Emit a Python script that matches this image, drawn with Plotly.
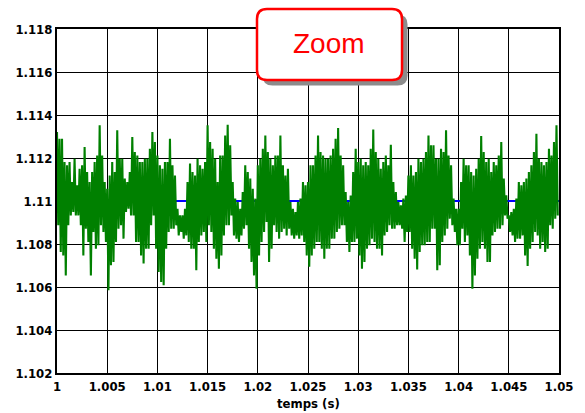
import numpy as np
import plotly.graph_objects as go

# Sampling step of the envelope readings (s)
step = 0.00025
t_start = 1.0

# Upper and lower extremes of the measured signal, one pair per step
sig_hi = [
    1.11321, 1.11290, 1.11290, 1.11181, 1.11166, 1.11181, 1.11088, 1.11197, 1.11073, 1.11150,
    1.11166, 1.11251, 1.11135, 1.11088, 1.11135, 1.11181, 1.11212, 1.11352, 1.11212, 1.11088,
    1.11057, 1.11119, 1.11181, 1.11135, 1.11329, 1.11197, 1.11197, 1.11104, 1.11088, 1.11135,
    1.11298, 1.11228, 1.11212, 1.11181, 1.11181, 1.11197, 1.11197, 1.11243, 1.11321, 1.11274,
    1.11212, 1.11166, 1.11150, 1.11181, 1.11181, 1.11290, 1.11166, 1.11119, 1.10964, 1.10933,
    1.10933, 1.10964, 1.11088, 1.11174, 1.11135, 1.11119, 1.11197, 1.11166, 1.11150, 1.11181,
    1.11352, 1.11274, 1.11243, 1.11197, 1.11088, 1.11212, 1.11212, 1.11305, 1.11355, 1.11259,
    1.11088, 1.11011, 1.10995, 1.10964, 1.11042, 1.11166, 1.11135, 1.11104, 1.11057, 1.11011,
    1.11166, 1.11197, 1.11243, 1.11305, 1.11228, 1.11197, 1.11166, 1.11212, 1.11212, 1.11305,
    1.11166, 1.11119, 1.11150, 1.10995, 1.10964, 1.10949, 1.10995, 1.11011, 1.11088, 1.11073,
    1.11088, 1.11166, 1.11166, 1.11212, 1.11305, 1.11228, 1.11212, 1.11197, 1.11197, 1.11212,
    1.11243, 1.11290, 1.11340, 1.11212, 1.11166, 1.11042, 1.10995, 1.11026, 1.11135, 1.11243,
    1.11181, 1.11197, 1.11166, 1.11181, 1.11166, 1.11243, 1.11333, 1.11228, 1.11197, 1.11150,
    1.11181, 1.11212, 1.11166, 1.11262, 1.11088, 1.11042, 1.10995, 1.10980, 1.11011, 1.11026,
    1.11119, 1.11166, 1.11119, 1.11135, 1.11197, 1.11181, 1.11197, 1.11228, 1.11305, 1.11259,
    1.11259, 1.11197, 1.11197, 1.11243, 1.11228, 1.11329, 1.11212, 1.11166, 1.11011, 1.10964,
    1.10964, 1.11088, 1.11197, 1.11166, 1.11166, 1.11135, 1.11119, 1.11150, 1.11197, 1.11302,
    1.11228, 1.11181, 1.11197, 1.11135, 1.11181, 1.11166, 1.11212, 1.11274, 1.11104, 1.11026,
    1.10933, 1.10949, 1.10964, 1.11011, 1.11088, 1.11073, 1.11088, 1.11104, 1.11135, 1.11166,
    1.11228, 1.11313, 1.11197, 1.11181, 1.11166, 1.11181, 1.11243, 1.11212, 1.11274, 1.11352,
]
sig_lo = [
    1.10887, 1.10763, 1.10747, 1.10654, 1.10887, 1.10933, 1.10949, 1.10933, 1.10933, 1.10887,
    1.10747, 1.10871, 1.10809, 1.10654, 1.10856, 1.10778, 1.10794, 1.10887, 1.10856, 1.10809,
    1.10585, 1.10701, 1.10716, 1.10809, 1.10871, 1.10887, 1.10825, 1.10949, 1.10964, 1.10933,
    1.10933, 1.10809, 1.10809, 1.10747, 1.10709, 1.10778, 1.10778, 1.10887, 1.10933, 1.10778,
    1.10670, 1.10623, 1.10608, 1.10778, 1.10856, 1.10871, 1.10871, 1.10887, 1.10840, 1.10856,
    1.10825, 1.10840, 1.10809, 1.10778, 1.10778, 1.10678, 1.10809, 1.10840, 1.10856, 1.10809,
    1.10887, 1.10856, 1.10778, 1.10732, 1.10685, 1.10747, 1.10840, 1.10887, 1.10887, 1.10933,
    1.10840, 1.10825, 1.10809, 1.10840, 1.10871, 1.10887, 1.10778, 1.10716, 1.10654, 1.10592,
    1.10747, 1.10809, 1.10856, 1.10902, 1.10716, 1.10778, 1.10887, 1.10856, 1.10825, 1.10856,
    1.10871, 1.10840, 1.10871, 1.10840, 1.10825, 1.10840, 1.10825, 1.10840, 1.10809, 1.10747,
    1.10694, 1.10747, 1.10778, 1.10809, 1.10809, 1.10778, 1.10732, 1.10778, 1.10778, 1.10825,
    1.10825, 1.10856, 1.10871, 1.10887, 1.10887, 1.10809, 1.10763, 1.10809, 1.10809, 1.10825,
    1.10747, 1.10685, 1.10716, 1.10778, 1.10794, 1.10825, 1.10809, 1.10778, 1.10778, 1.10747,
    1.10840, 1.10856, 1.10887, 1.10871, 1.10871, 1.10887, 1.10887, 1.10871, 1.10809, 1.10856,
    1.10856, 1.10778, 1.10732, 1.10682, 1.10763, 1.10794, 1.10794, 1.10809, 1.10809, 1.10871,
    1.10871, 1.10678, 1.10701, 1.10809, 1.10840, 1.10871, 1.10918, 1.10887, 1.10856, 1.10794,
    1.10794, 1.10871, 1.10809, 1.10840, 1.10747, 1.10592, 1.10654, 1.10732, 1.10778, 1.10809,
    1.10778, 1.10716, 1.10716, 1.10840, 1.10856, 1.10871, 1.10871, 1.10887, 1.10933, 1.10918,
    1.10856, 1.10840, 1.10809, 1.10825, 1.10825, 1.10840, 1.10747, 1.10698, 1.10778, 1.10809,
    1.10856, 1.10840, 1.10778, 1.10809, 1.10763, 1.10778, 1.10887, 1.10871, 1.10918, 1.10933,
]

# Reference level
ref_level = 1.11
ref_span = [1.0, 1.05]

x_ticks = [1.0, 1.005, 1.01, 1.015, 1.02, 1.025, 1.03, 1.035, 1.04, 1.045, 1.05]
x_labels = ["1", "1.005", "1.01", "1.015", "1.02", "1.025", "1.03", "1.035", "1.04", "1.045", "1.05"]
y_ticks = [1.102, 1.104, 1.106, 1.108, 1.11, 1.112, 1.114, 1.116, 1.118]
y_labels = ["1.102", "1.104", "1.106", "1.108", "1.11", "1.112", "1.114", "1.116", "1.118"]

# Interleave the extremes into one zig-zag trace
n = len(sig_hi)
t_hi = t_start + step * np.arange(n)
t_lo = t_hi + step / 2
t = np.empty(2 * n)
v = np.empty(2 * n)
t[0::2], t[1::2] = t_hi, t_lo
v[0::2], v[1::2] = sig_hi, sig_lo

fig = go.Figure()
fig.add_trace(go.Scatter(x=ref_span, y=[ref_level, ref_level], mode="lines",
                         line=dict(color="#0000ff", width=2), hoverinfo="skip"))
fig.add_trace(go.Scatter(x=t, y=v, mode="lines",
                         line=dict(color="#008000", width=2.1)))

tick_font = dict(family="DejaVu Sans Condensed, DejaVu Sans", size=13, color="black", weight="bold")

fig.update_xaxes(range=[1.0, 1.05], tickvals=x_ticks, ticktext=x_labels,
                 showgrid=True, gridcolor="black", gridwidth=1.3, zeroline=False,
                 showline=True, linecolor="black", linewidth=2, mirror=True,
                 ticks="", tickfont=tick_font, automargin=False)
fig.update_yaxes(range=[1.102, 1.118], tickvals=y_ticks, ticktext=y_labels,
                 showgrid=True, gridcolor="black", gridwidth=1.3, zeroline=False,
                 showline=True, linecolor="black", linewidth=2, mirror=True,
                 ticks="", tickfont=tick_font, automargin=False)

# Axis title placed just under the tick labels
fig.add_annotation(x=0.5, y=-0.088, xref="paper", yref="paper", text="temps (s)",
                   xanchor="center", yanchor="middle", showarrow=False, font=tick_font)

# Rounded "Zoom" label box with a drop shadow (paper coordinates)
def rounded(x0, x1, yb, yt, rx, ry):
    return (f"M {x0+rx},{yt} L {x1-rx},{yt} Q {x1},{yt} {x1},{yt-ry} "
            f"L {x1},{yb+ry} Q {x1},{yb} {x1-rx},{yb} L {x0+rx},{yb} "
            f"Q {x0},{yb} {x0},{yb+ry} L {x0},{yt-ry} Q {x0},{yt} {x0+rx},{yt} Z")

bx0, bx1, by0, by1 = 0.3984, 0.6873, 0.8517, 1.0581
rx, ry = 0.0199, 0.0291
dx, dy = 0.0110, -0.0160
fig.add_shape(type="path", xref="paper", yref="paper", layer="above",
              path=rounded(bx0 + dx, bx1 + dx, by0 + dy, by1 + dy, rx, ry),
              fillcolor="#8c8c8c", line=dict(width=0))
fig.add_shape(type="path", xref="paper", yref="paper", layer="above",
              path=rounded(bx0, bx1, by0, by1, rx, ry),
              fillcolor="white", line=dict(color="#ff0000", width=2.5))
fig.add_annotation(x=0.5418, y=0.9564, xref="paper", yref="paper", text="Zoom",
                   xanchor="center", yanchor="middle", showarrow=False,
                   font=dict(family="Liberation Sans, Arial", size=28, color="#ff0000"))

fig.update_layout(width=585, height=413, showlegend=False,
                  margin=dict(l=57, r=26, t=29, b=40),
                  plot_bgcolor="white", paper_bgcolor="white")

fig.write_html("out.html")
